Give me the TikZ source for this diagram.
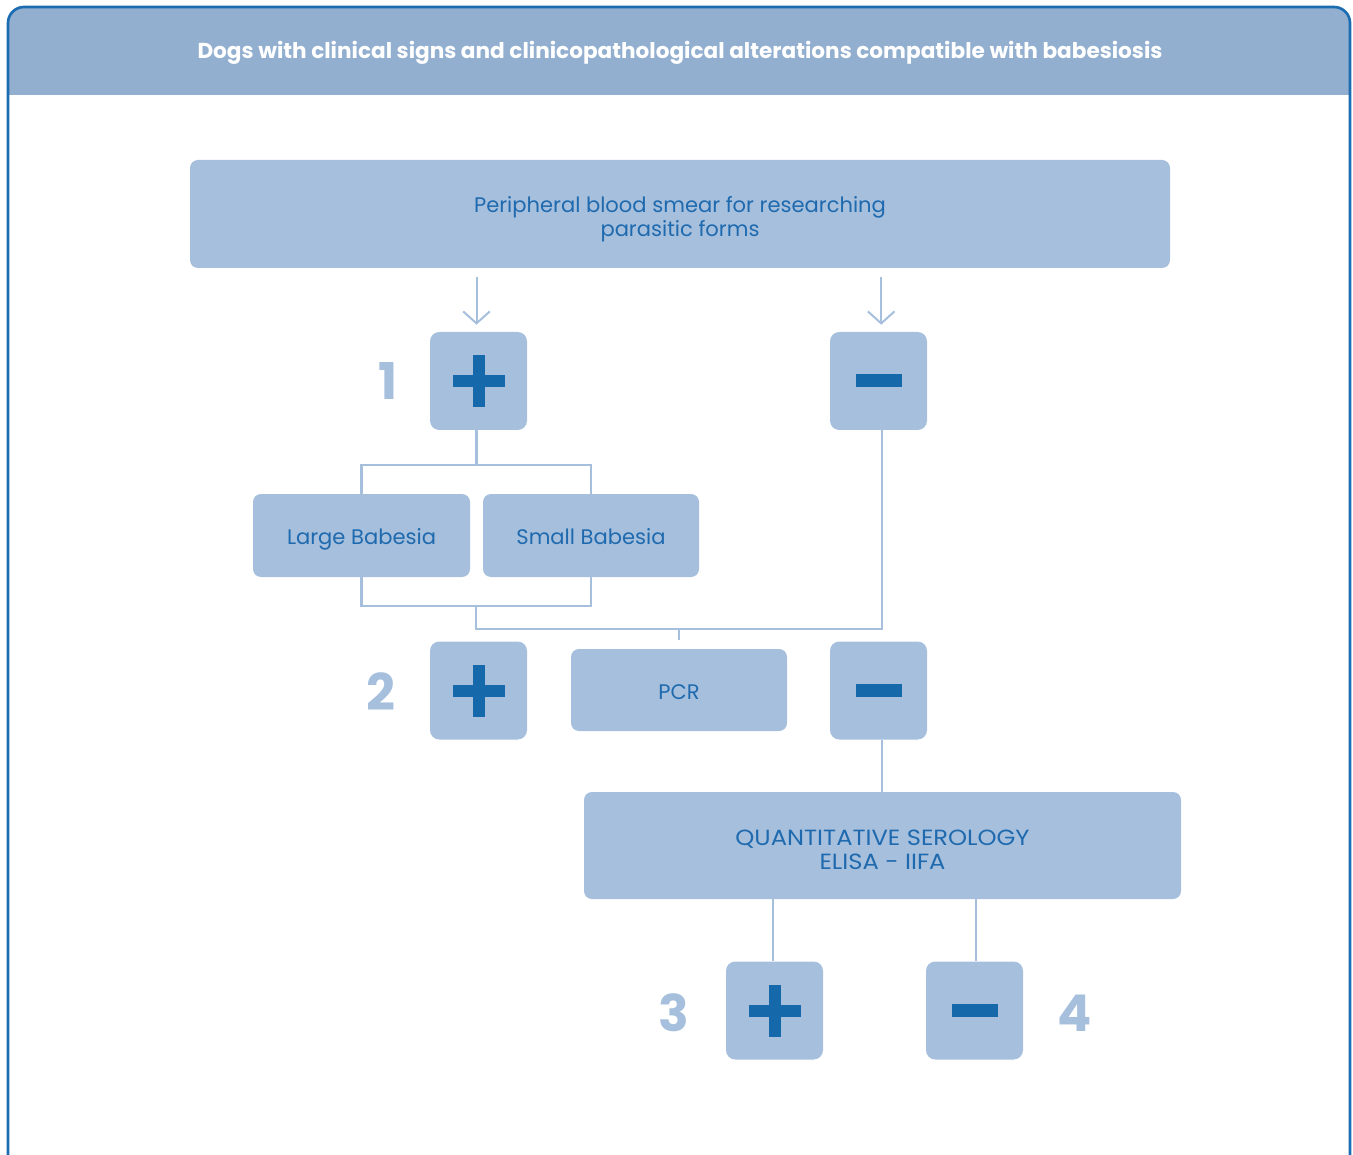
\documentclass[tikz,border=0pt]{standalone}
\usepackage{fontspec}
\setmainfont{Poppins}
\usetikzlibrary{arrows.meta,calc}
\definecolor{framec}{HTML}{1B6CB0}
\definecolor{headc}{HTML}{92AFD0}
\definecolor{boxc}{HTML}{A6BFDD}
\definecolor{txtc}{HTML}{1F6AAE}
\definecolor{signc}{HTML}{1569AA}
\newcommand\plussign[1]{\fill[signc] ($(#1)+(-26,-6)$) rectangle ($(#1)+(26,6)$);
  \fill[signc] ($(#1)+(-6,-26)$) rectangle ($(#1)+(6,26)$);}
\newcommand\minussign[1]{\fill[signc] ($(#1)+(-23,-6.5)$) rectangle ($(#1)+(23,6.5)$);}
\begin{document}
\begin{tikzpicture}[x=0.75pt,y=-0.75pt,
  box/.style={fill=boxc, rounded corners=6pt, inner sep=0pt},
  lbl/.style={text=txtc, align=center, inner sep=0pt, font=\fontsize{15.8}{18}\selectfont},
  sq/.style={box, minimum width=72.75pt, minimum height=73.5pt, rounded corners=7pt},
  conn/.style={draw=boxc, line width=1.8pt},
  arr/.style={draw=boxc, line width=1.5pt, -{Straight Barb[length=9pt,width=20pt,line width=1.5pt]}},
  num/.style={text=boxc, font=\fontsize{38}{40}\selectfont\bfseries}
]
\useasboundingbox (0,0) rectangle (1353,1155);
\clip (0,0) rectangle (1353,1155);
% header and frame
\fill[headc] (8,95) [rounded corners=12pt]-- (8,7) -- (1350,7) [sharp corners]-- (1350,95) -- cycle;
\draw[framec, line width=2pt, rounded corners=12pt] (8,7) rectangle (1350,1185);
\node[text=white, font=\fontsize{16.2}{18}\selectfont\bfseries] (title) at (680,53)
  {Dogs with clinical signs and clinicopathological alterations compatible with babesiosis};
% boxes
\node[box, minimum width=735pt, minimum height=81pt] (smear) at (680,214) {};
\node[sq] (p1) at (478.5,381) {};
\node[sq] (m1) at (878.5,381) {};
\node[box, minimum width=162.75pt, minimum height=62.25pt] (large) at (361.5,535.5) {};
\node[box, minimum width=162pt, minimum height=62.25pt] (small) at (591,535.5) {};
\node[sq] (p2) at (478.5,690.5) {};
\node[box, minimum width=162pt, minimum height=61.5pt] (pcr) at (679,690) {};
\node[sq] (m2) at (878.5,690.5) {};
\node[box, minimum width=447.75pt, minimum height=80.25pt] (sero) at (882.5,845.5) {};
\node[sq] (p3) at (774.5,1010.5) {};
\node[sq] (m4) at (974.5,1010.5) {};
% labels
\node[lbl] (smeart) at ($(smear)+(0,5)$) {Peripheral blood smear for researching\\parasitic forms};
\node[lbl] (larget) at ($(large)+(0,4)$) {Large Babesia};
\node[lbl] (smallt) at ($(small)+(0,1)$) {Small Babesia};
\node[lbl] (pcrt) at ($(pcr)+(0,2)$) {PCR};
\node[lbl, font=\fontsize{16.5}{18}\selectfont\addfontfeature{FakeStretch=1.1}] (serot) at ($(sero)+(0,4)$)
  {QUANTITATIVE SEROLOGY\\ELISA - IIFA};
% signs
\plussign{p1}
\minussign{m1}
\plussign{p2}
\minussign{m2}
\plussign{p3}
\minussign{m4}
% numbers
\node[num] (n1) at (388,381) {1};
\node[num] (n2) at (381,692) {2};
\node[num] (n3) at (674,1013) {3};
\node[num] (n4) at (1075,1013) {4};
% arrows
\draw[arr, shorten <=6.75pt, shorten >=5.25pt] ([xshift=-1.5pt]p1.north |- smear.south) -- ([xshift=-1.5pt]p1.north);
\draw[arr, shorten <=6.75pt, shorten >=5.25pt] ([xshift=2pt]m1.north |- smear.south) -- ([xshift=2pt]m1.north);
% connectors
\coordinate (j1) at ($(p1.south)+(-2,35)$);
\draw[conn] (j1 |- p1.south) -- (j1);
\draw[conn] (large.north) |- (j1) -| (small.north);
\coordinate (j2) at ($(large.south)!0.5!(small.south)+(0,29)$);
\draw[conn] (large.south) |- (j2) -| (small.south);
\coordinate (j3) at ($(j2)+(0,23)$);
\draw[conn] (j2) -- (j3) -| ([xshift=2.6pt]m1.south);
\draw[conn] (pcr.north |- j3) -- ++(0,11);
\draw[conn] ([xshift=2.6pt]m2.south) -- ([xshift=2.6pt]m2.south |- sero.north);
\draw[conn] ([xshift=-1pt]p3.north |- sero.south) -- ([xshift=-1pt]p3.north);
\draw[conn] ([xshift=1pt]m4.north |- sero.south) -- ([xshift=1pt]m4.north);
\end{tikzpicture}
\end{document}
